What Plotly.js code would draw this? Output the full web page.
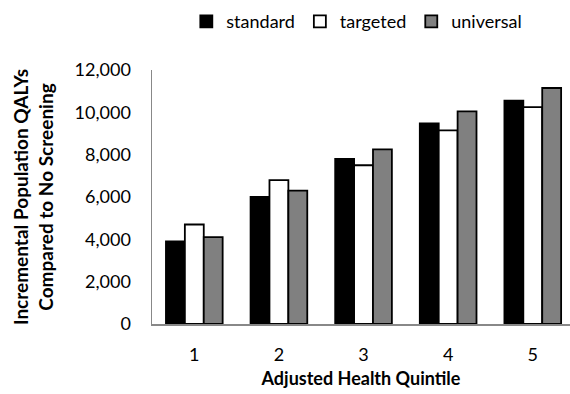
<!DOCTYPE html>
<html>
<head>
<meta charset="utf-8">
<script src="https://cdn.plot.ly/plotly-3.0.1.min.js"></script>
<style>html,body{margin:0;padding:0;background:#fff;overflow:hidden}</style>
</head>
<body>
<div id="chart" style="width:570px;height:394px"></div>
<script>
var quintiles = ["1", "2", "3", "4", "5"];
var standard = [3900, 6000, 7800, 9480, 10550];
var targeted = [4700, 6800, 7500, 9150, 10250];
var universal = [4100, 6300, 8250, 10050, 11150];
var yTicks = [0, 2000, 4000, 6000, 8000, 10000, 12000];
var yTickText = ["0", "2,000", "4,000", "6,000", "8,000", "10,000", "12,000"];

var FONT = "Lato, 'Open Sans', sans-serif";
function mk(name, y, color) {
  return {type: "bar", name: name, x: quintiles, y: y,
    marker: {color: color, line: {color: "#000", width: 1.8}}};
}
var data = [mk("standard", standard, "#000000"), mk("targeted", targeted, "#ffffff"), mk("universal", universal, "#808080")];
var layout = {
  width: 570, height: 394,
  margin: {l: 152, r: 0, t: 70, b: 70},
  paper_bgcolor: "#fff", plot_bgcolor: "#fff",
  font: {family: FONT, size: 18, color: "#000"},
  barmode: "group", bargap: 0.33, bargroupgap: 0,
  showlegend: true,
  legend: {orientation: "h", x: 0.49, xanchor: "center", y: 1.19, yanchor: "middle",
    font: {family: FONT, size: 18}, itemwidth: 30, traceorder: "normal"},
  xaxis: {type: "category", range: [-0.5, 4.44], showline: true, linecolor: "#888", linewidth: 1.5,
    ticks: "", tickfont: {size: 18}, showgrid: false, zeroline: false, ticklabelstandoff: 14,
    title: {text: "<b>Adjusted Health Quintile</b>", font: {size: 18}, standoff: 8}},
  yaxis: {range: [0, 12000], tickvals: yTicks, ticktext: yTickText, showline: true,
    linecolor: "#888", linewidth: 1.5, ticks: "", showgrid: false, zeroline: false,
    tickfont: {size: 18}, ticklabelstandoff: 16,
    title: {text: "<b>Incremental Population QALYs<br>Compared to No Screening</b>", font: {size: 19}, standoff: 16}}
};
Plotly.newPlot("chart", data, layout, {displayModeBar: false, staticPlot: true});
</script>
</body>
</html>
